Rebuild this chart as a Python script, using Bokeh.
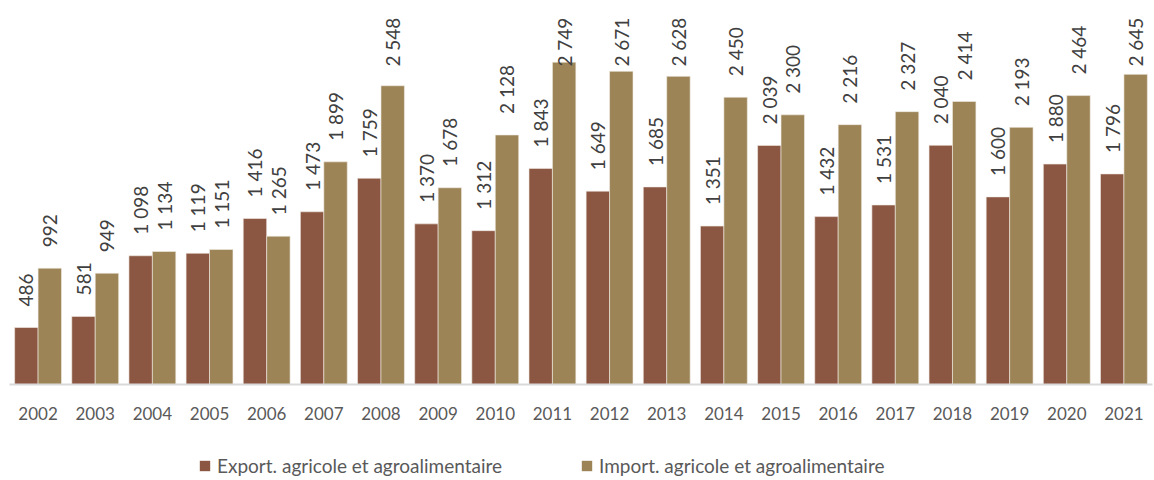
from bokeh.plotting import figure
from bokeh.models import ColumnDataSource, FactorRange, Legend, LegendItem, Range1d
from bokeh.layouts import column
from bokeh.transform import dodge
from bokeh.core.properties import value
from bokeh.embed import file_html
from bokeh.resources import INLINE

years = ["2002", "2003", "2004", "2005", "2006", "2007", "2008", "2009", "2010", "2011",
         "2012", "2013", "2014", "2015", "2016", "2017", "2018", "2019", "2020", "2021"]
export_vals = [486, 581, 1098, 1119, 1416, 1473, 1759, 1370, 1312, 1843,
               1649, 1685, 1351, 2039, 1432, 1531, 2040, 1600, 1880, 1796]
import_vals = [992, 949, 1134, 1151, 1265, 1899, 2548, 1678, 2128, 2749,
               2671, 2628, 2450, 2300, 2216, 2327, 2414, 2193, 2464, 2645]
series_names = ["Export. agricole et agroalimentaire", "Import. agricole et agroalimentaire"]

Y_MAX = 3275
LABEL_CAP = 2532  # labels of taller bars are held inside the chart area, as in the original

def fmt(v):
    return f"{v:,}".replace(",", " ")

src = ColumnDataSource(dict(
    year=years, exp=export_vals, imp=import_vals,
    exp_lbl=[fmt(v) for v in export_vals], imp_lbl=[fmt(v) for v in import_vals],
    exp_ly=[min(v, LABEL_CAP) for v in export_vals],
    imp_ly=[min(v, LABEL_CAP) for v in import_vals],
))

EXP_COL = "#8B5742"
IMP_COL = "#9C8457"
FONT = "Lato"

p = figure(x_range=FactorRange(*years, range_padding=0), y_range=Range1d(0, Y_MAX),
           width=1154, height=430, output_backend="svg", toolbar_location=None,
           min_border_left=9, min_border_right=2, min_border_top=0, min_border_bottom=46)
p.outline_line_color = None
p.grid.visible = False
p.yaxis.visible = False

w = 0.41
r1 = p.vbar(x=dodge("year", -0.205, range=p.x_range), top="exp", width=w, source=src,
            fill_color=EXP_COL, line_color="#f2ebe6", line_width=0.6)
r2 = p.vbar(x=dodge("year", 0.205, range=p.x_range), top="imp", width=w, source=src,
            fill_color=IMP_COL, line_color="#f2ede4", line_width=0.6)

for ly, lbl, d in [("exp_ly", "exp_lbl", -0.205), ("imp_ly", "imp_lbl", 0.205)]:
    p.text(x=dodge("year", d, range=p.x_range), y=ly, text=lbl, source=src,
           angle=1.5708, text_align="left", text_baseline="middle", y_offset=-21,
           text_font=value(FONT), text_font_size="19px", text_color="#404040")

ax = p.xaxis[0]
ax.axis_line_color = "#d9d9d9"
ax.axis_line_width = 2
ax.major_tick_line_color = None
ax.minor_tick_line_color = None
ax.major_label_text_font = FONT
ax.major_label_text_font_size = "17px"
ax.major_label_text_color = "#595959"
ax.major_label_standoff = 16

# legend strip
lf = figure(width=1154, height=50, output_backend="svg", toolbar_location=None,
            x_range=Range1d(0, 1), y_range=Range1d(0, 1),
            min_border_left=0, min_border_right=0, min_border_top=0, min_border_bottom=0)
lf.outline_line_color = None
lf.grid.visible = False
lf.axis.visible = False
swatch = ColumnDataSource(dict(x=[-5], top=[-5]))  # off-screen, only used for legend swatches
g1 = lf.vbar(x="x", top="top", width=0.1, source=swatch, fill_color=EXP_COL, line_color=None)
g2 = lf.vbar(x="x", top="top", width=0.1, source=swatch, fill_color=IMP_COL, line_color=None)
legend = Legend(items=[LegendItem(label=series_names[0], renderers=[g1]),
                       LegendItem(label=series_names[1], renderers=[g2])],
                orientation="horizontal", location=(189, 3),
                label_text_font=FONT, label_text_font_size="19px", label_text_color="#595959",
                glyph_width=13, glyph_height=13, label_standoff=6, spacing=78,
                border_line_color=None, background_fill_alpha=0, padding=0, margin=0)
lf.add_layout(legend, "center")

open("out.html", "w").write(file_html(column(p, lf, spacing=0), INLINE))
